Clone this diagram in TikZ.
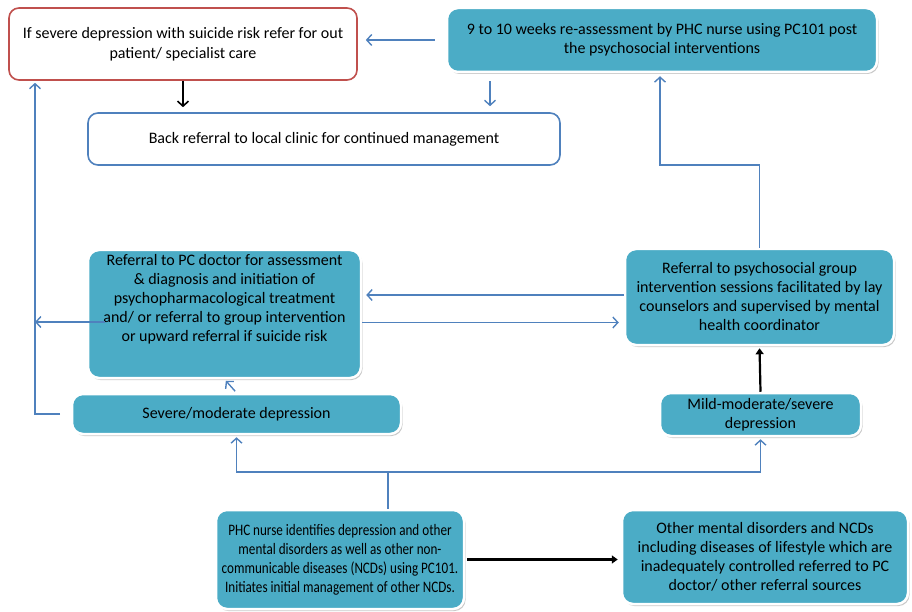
\documentclass[tikz,border=0pt]{standalone}
\usepackage{fontspec}
\setmainfont{Carlito}
\newfontfamily\condensedfont[FakeStretch=0.82]{Carlito}
\usetikzlibrary{arrows.meta,shadows}
\definecolor{tealfill}{HTML}{4BACC6}
\definecolor{lineblue}{HTML}{4F81BD}
\definecolor{redline}{HTML}{C0504D}
\begin{document}
\begin{tikzpicture}[x=1pt,y=-1pt,
  every node/.style={font=\fontsize{16}{19}\selectfont, align=center, inner sep=0pt},
  tealbox/.style={fill=tealfill, draw=white, line width=2.5pt, rounded corners=11pt,
    drop shadow={shadow xshift=1.5pt, shadow yshift=-2pt, fill=black!30, opacity=0.7}},
  outbox/.style={fill=white, draw=#1, line width=1.6pt, rounded corners=10pt},
  bluearrow/.style={draw=lineblue, line width=1.4pt, -{Straight Barb[length=5pt,width=11pt,line width=1.4pt]}},
  blueline/.style={draw=lineblue, line width=1.4pt},
  blackarrow/.style={draw=black, line width=2.2pt, -{Triangle[length=6pt,width=8pt]}},
  blackbarb/.style={draw=black, line width=1.6pt, -{Straight Barb[length=5pt,width=11pt,line width=1.6pt]}}
]
\useasboundingbox (0,0) rectangle (912,612);

% boxes
\node[outbox=redline, minimum width=348pt, minimum height=72pt, font=\fontsize{16}{20}\selectfont] (red) at (183,44)
  {If severe depression with suicide risk refer for out\\patient/ specialist care};
\node[tealbox, minimum width=430pt, minimum height=64pt] (reassess) at (662,40)
  {9 to 10 weeks re-assessment by PHC nurse using PC101 post\\the psychosocial interventions};
\node[outbox=lineblue, minimum width=472pt, minimum height=52pt] (back) at (324,139)
  {Back referral to local clinic for continued management};
\node[tealbox, minimum width=273pt, minimum height=128pt] (refdoc) at (224.5,314) {};
\node (refdoctext) at (224.5,299)
  {Referral to PC doctor for assessment\\\& diagnosis and initiation of\\psychopharmacological treatment\\and/ or referral to group intervention\\or upward referral if suicide risk};
\node[tealbox, minimum width=329pt, minimum height=40pt] (severe) at (236.5,414)
  {Severe/moderate depression};
\node[tealbox, minimum width=269pt, minimum height=96pt] (psycho) at (759.5,297)
  {Referral to psychosocial group\\intervention sessions facilitated by lay\\counselors and supervised by mental\\health coordinator};
\node[tealbox, minimum width=201pt, minimum height=43pt] (mild) at (760.5,414.5)
  {Mild-moderate/severe\\depression};
\node[tealbox, minimum width=248pt, minimum height=99pt, font=\condensedfont\fontsize{16}{19}\selectfont] (phc) at (340,559.5)
  {PHC nurse identifies depression and other\\mental disorders as well as other non-\\communicable diseases (NCDs) using PC101.\\Initiates initial management of other NCDs.};
\node[tealbox, minimum width=286pt, minimum height=94pt] (other) at (765,557)
  {Other mental disorders and NCDs\\including diseases of lifestyle which are\\inadequately controlled referred to PC\\doctor/ other referral sources};

% helper coordinates
\coordinate (y295) at (0,295);
\coordinate (y323) at (0,322.5);
\coordinate (bend) at (660,165);
\coordinate (lstart) at (105,322);
\coordinate (vline) at (35,322);
\coordinate (sl) at (60,414);
\coordinate (junc) at (388,472);
\coordinate (x490) at (490,0);

% connectors
\draw[bluearrow, shorten <=11pt, shorten >=8pt] (reassess.west) -- (reassess.west -| red.east);
\draw[blackbarb, shorten >=5pt] (red.south) -- (red.south |- back.north);
\draw[bluearrow, shorten <=8pt, shorten >=6pt] (reassess.south -| x490) -- (back.north -| x490);
\draw[bluearrow, shorten >=3pt] (psycho.north) |- (bend) -- (bend |- reassess.south);
\draw[bluearrow, shorten >=4pt] (psycho.west |- y295) -- (refdoc.east |- y295);
\draw[bluearrow, shorten >=5pt] (refdoc.east |- y323) -- (psycho.west |- y323);
\draw[bluearrow] (lstart) -- (vline);
\draw[bluearrow, shorten >=2pt] (sl) -| (vline |- red.south);
\draw[bluearrow, shorten <=2pt, shorten >=2pt] (severe.north) -- (refdoc.south);
\draw[blueline] (phc.north -| junc) -- (junc);
\draw[bluearrow, shorten >=2pt] (junc) -| (severe.south);
\draw[bluearrow, shorten >=2pt] (junc) -| (mild.south);
\draw[blackarrow, shorten >=2pt] (mild.north) -- (psycho.south);
\draw[blackarrow, shorten <=2pt, shorten >=3pt] (phc.east) -- (phc.east -| other.west);
\end{tikzpicture}
\end{document}
